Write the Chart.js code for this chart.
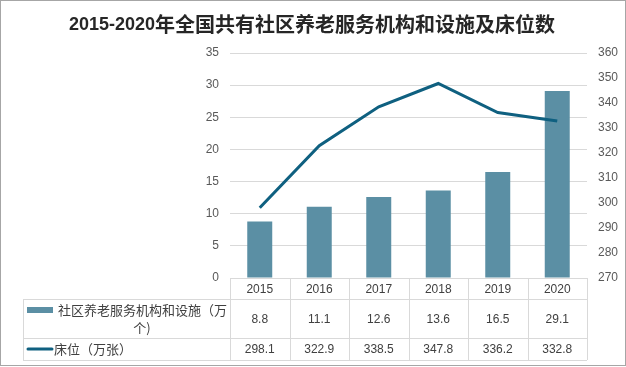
<!DOCTYPE html>
<html>
<head>
<meta charset="utf-8">
<script src="https://cdn.jsdelivr.net/npm/chart.js@4"></script>
<style>
  html, body { margin: 0; padding: 0; background: #fff; }
  #wrap { width: 626px; height: 367px; position: relative; }
</style>
</head>
<body>
<div id="wrap"><canvas id="c" width="626" height="367"></canvas></div>
<script>
const titleYears = '2015-2020';
const titleText = '年全国共有社区养老服务机构和设施及床位数';
const categories = ['2015', '2016', '2017', '2018', '2019', '2020'];
const facilities = [8.8, 11.1, 12.6, 13.6, 16.5, 29.1];
const beds = [298.1, 322.9, 338.5, 347.8, 336.2, 332.8];
const facilitiesLabelLines = ['社区养老服务机构和设施（万', '个)'];
const bedsLabel = '床位（万张）';

const BAR_COLOR = '#5B8FA4';
const LINE_COLOR = '#0F6080';
const GRID = '#D9D9D9';
const TXT = '#404040';
const TICK = '#595959';
const NUM_FONT = '12px "Liberation Sans", Arial, "Noto Sans CJK SC", sans-serif';
const CJK_FONT = '13px "Noto Sans CJK SC", "Liberation Sans", sans-serif';
const TITLE_ASCII_FONT = 'bold 18px "Liberation Sans", Arial, sans-serif';
const TITLE_CJK_FONT = 'bold 20px "Noto Sans CJK SC", sans-serif';

const tablePlugin = {
  id: 'tablePlugin',
  afterDraw(chart) {
    const ctx = chart.ctx;
    const x = chart.scales.x;
    const area = chart.chartArea;
    const top = area.bottom;          // 278
    const r1 = top + 21;              // header row bottom
    const r2 = r1 + 39;               // facilities row bottom
    const r3 = r2 + 22;               // beds row bottom
    const leftCol = 23;
    ctx.save();
    ctx.strokeStyle = GRID;
    ctx.lineWidth = 1;
    ctx.beginPath();
    ctx.moveTo(area.left, top + 0.5); ctx.lineTo(area.right, top + 0.5);
    ctx.moveTo(leftCol, r1 + 0.5); ctx.lineTo(area.right, r1 + 0.5);
    ctx.moveTo(leftCol, r2 + 0.5); ctx.lineTo(area.right, r2 + 0.5);
    ctx.moveTo(leftCol, r3 + 0.5); ctx.lineTo(area.right, r3 + 0.5);
    ctx.moveTo(leftCol + 0.5, r1); ctx.lineTo(leftCol + 0.5, r3);
    const step = (area.right - area.left) / categories.length;
    for (let i = 0; i <= categories.length; i++) {
      const vx = Math.round(area.left + i * step) + 0.5;
      ctx.moveTo(vx, top); ctx.lineTo(vx, r3);
    }
    ctx.stroke();

    ctx.fillStyle = TXT;
    ctx.font = NUM_FONT;
    ctx.textAlign = 'center';
    ctx.textBaseline = 'middle';
    categories.forEach((c, i) => {
      const cx = x.getPixelForValue(i);
      ctx.fillText(c, cx, (top + r1) / 2 + 1);
      ctx.fillText(facilities[i].toFixed(1), cx, (r1 + r2) / 2 + 1);
      ctx.fillText(beds[i].toFixed(1), cx, (r2 + r3) / 2 + 1);
    });

    ctx.fillStyle = BAR_COLOR;
    ctx.fillRect(27, 307, 26, 6);
    ctx.strokeStyle = LINE_COLOR;
    ctx.lineWidth = 3;
    ctx.lineCap = 'round';
    ctx.beginPath();
    ctx.moveTo(28, 349); ctx.lineTo(52, 349);
    ctx.stroke();

    ctx.fillStyle = TXT;
    ctx.font = CJK_FONT;
    ctx.textAlign = 'left';
    ctx.fillText(facilitiesLabelLines[0], 58, 310);
    ctx.textAlign = 'center';
    ctx.fillText(facilitiesLabelLines[1], 142, 328);
    ctx.textAlign = 'left';
    ctx.fillText(bedsLabel, 54, 349);

    // title (two fonts, centred on canvas)
    ctx.fillStyle = '#262626';
    ctx.textAlign = 'left';
    ctx.font = TITLE_ASCII_FONT;
    const w1 = ctx.measureText(titleYears).width;
    ctx.font = TITLE_CJK_FONT;
    const w2 = ctx.measureText(titleText).width;
    const startX = 312 - (w1 + w2) / 2;
    ctx.font = TITLE_ASCII_FONT;
    ctx.fillText(titleYears, startX, 25);
    ctx.font = TITLE_CJK_FONT;
    ctx.fillText(titleText, startX + w1, 24);

    ctx.strokeStyle = '#A6A6A6';
    ctx.lineWidth = 1;
    ctx.strokeRect(0.5, 0.5, 625, 365);
    ctx.restore();
  }
};

new Chart(document.getElementById('c'), {
  data: {
    labels: categories,
    datasets: [
      {
        type: 'line',
        label: bedsLabel,
        data: beds,
        yAxisID: 'y1',
        borderColor: LINE_COLOR,
        borderWidth: 3,
        pointRadius: 0,
        tension: 0,
        order: 0
      },
      {
        type: 'bar',
        label: facilitiesLabelLines.join(''),
        data: facilities,
        yAxisID: 'y',
        backgroundColor: BAR_COLOR,
        barPercentage: 0.42,
        categoryPercentage: 1,
        order: 1
      }
    ]
  },
  options: {
    responsive: false,
    animation: false,
    layout: { padding: { left: 0, right: 0, top: 53, bottom: 89 } },
    plugins: { legend: { display: false }, title: { display: false }, tooltip: { enabled: false } },
    scales: {
      x: { display: false, offset: true },
      y: {
        position: 'left',
        min: 0, max: 35,
        ticks: { stepSize: 5, padding: 11, color: TICK, font: { family: '"Liberation Sans", Arial, sans-serif', size: 12 } },
        grid: { color: GRID, drawTicks: false },
        border: { display: false },
        afterFit(s) { s.width = 230; }
      },
      y1: {
        position: 'right',
        min: 270, max: 360,
        ticks: { stepSize: 10, padding: 11, color: TICK, font: { family: '"Liberation Sans", Arial, sans-serif', size: 12 } },
        grid: { display: false, drawTicks: false },
        border: { display: false },
        afterFit(s) { s.width = 39; }
      }
    }
  },
  plugins: [tablePlugin]
});
</script>
</body>
</html>
